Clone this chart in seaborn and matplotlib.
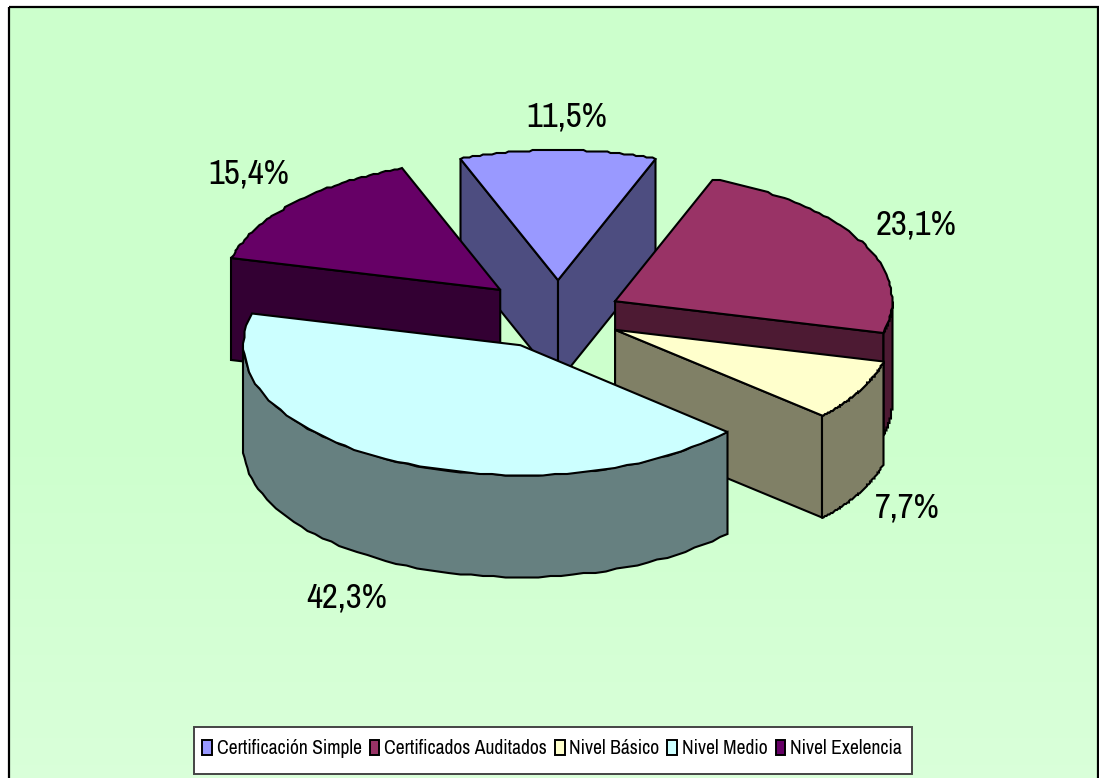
"""Exploded 3D-look pie of certification levels."""

import matplotlib

matplotlib.use("Agg")
import matplotlib.font_manager as fm
import matplotlib.pyplot as plt
import numpy as np
import seaborn as sns
from matplotlib.colors import LinearSegmentedColormap, to_rgb
from matplotlib.patches import Patch, Polygon, Rectangle

CATEGORIES = ["Certificación Simple", "Certificados Auditados", "Nivel Básico", "Nivel Medio", "Nivel Exelencia"]
PERCENTS = [11.5, 23.1, 7.7, 42.3, 15.4]
LABELS = ["11,5%", "23,1%", "7,7%", "42,3%", "15,4%"]
COLORS = ["#9999FF", "#993366", "#FFFFCC", "#CCFFFF", "#660066"]

# pie geometry, in pixels of the 1099x778 canvas
CX, CY = 555, 315
RX, RY = 277, 130
DEPTH = 102
EXPLODE = 0.245
START = -20.7
DRAW_ORDER = [0, 4, 1, 2, 3]
NUDGE = [(3, -3), (0, 1), (0, 0), (-3, 2), (-4, -4)]
LABEL_XY = [(567, 116), (916, 224), (907, 508), (347, 597), (249, 173)]


def rim(theta, apex):
    t = np.radians(theta)
    pts = np.column_stack([apex[0] + RX * np.sin(t), apex[1] - RY * np.cos(t)])
    return np.round(pts / 1.5) * 1.5


def draw_slice(ax, theta1, theta2, color, nudge):
    mid = np.radians((theta1 + theta2) / 2)
    apex = (CX + EXPLODE * RX * np.sin(mid) + nudge[0], CY - EXPLODE * RY * np.cos(mid) + nudge[1])
    side = tuple(0.5 * c for c in to_rgb(color))
    style = {"edgecolor": "black", "linewidth": 1.5, "joinstyle": "miter"}

    def extrude(points):
        lowered = points[::-1] + [0, DEPTH]
        ax.add_patch(Polygon(np.vstack([points, lowered]), facecolor=side, **style))

    # radial walls that face the viewer, then the front part of the rim
    for theta, sign in ((theta1, -1), (theta2, 1)):
        if sign * np.sin(np.radians(theta)) > 0:
            extrude(np.vstack([apex, rim(np.array([theta]), apex)]))
    lo, hi = max(theta1, 90), min(theta2, 270)
    if lo < hi:
        extrude(rim(np.linspace(lo, hi, 60), apex))
    arc = rim(np.linspace(theta1, theta2, 60), apex)
    ax.add_patch(Polygon(np.vstack([apex, arc]), facecolor=color, **style))


def main():
    sns.set_theme(style="white")
    names = {f.name for f in fm.fontManager.ttflist}
    narrow = [n for n in ("Archivo Narrow", "Liberation Sans Narrow", "Liberation Sans") if n in names]
    plt.rcParams["font.family"] = narrow + ["DejaVu Sans"]

    fig = plt.figure(figsize=(10.99, 7.78), dpi=100, facecolor="white")
    ax = fig.add_axes([0, 0, 1, 1])
    ax.axis("off")

    frame = Rectangle((9, 7), 1089, 790, facecolor="none", edgecolor="black", linewidth=1.6, zorder=1)
    bg_cmap = LinearSegmentedColormap.from_list("bg", ["#CCFFCC", "#CCFFCC", "#DAFFDA"])
    bg = ax.imshow(np.linspace(0, 1, 200)[:, None], cmap=bg_cmap, aspect="auto", extent=(9, 1098, 797, 7), zorder=0)
    ax.add_patch(frame)
    bg.set_clip_path(frame)
    ax.set_xlim(0, 1099)
    ax.set_ylim(778, 0)

    shares = np.array(PERCENTS) / sum(PERCENTS) * 360
    edges = START + np.concatenate([[0], np.cumsum(shares)])
    for i in DRAW_ORDER:
        draw_slice(ax, edges[i], edges[i + 1], COLORS[i], NUDGE[i])

    for text, (x, y) in zip(LABELS, LABEL_XY):
        ax.text(x, y, text, fontsize=25, ha="center", va="center", color="black", zorder=5)

    # legend box is drawn apart so its padding can differ per direction
    ax.add_patch(Rectangle((194, 727), 718, 47, facecolor="white", edgecolor="#444444", linewidth=1.4, zorder=5))
    handles = [Patch(facecolor=c, edgecolor="black", linewidth=1.4) for c in COLORS]
    leg = ax.legend(
        handles, CATEGORIES, ncol=5, loc="center", bbox_to_anchor=(552, 749),
        bbox_transform=ax.transData, fontsize=14.1, frameon=False, handlelength=0.5, handleheight=0.75,
        handletextpad=0.25, columnspacing=0.4, borderpad=0, borderaxespad=0, labelcolor="black",
    )
    leg.set_zorder(6)

    fig.savefig("out.png", dpi=100)


if __name__ == "__main__":
    main()
